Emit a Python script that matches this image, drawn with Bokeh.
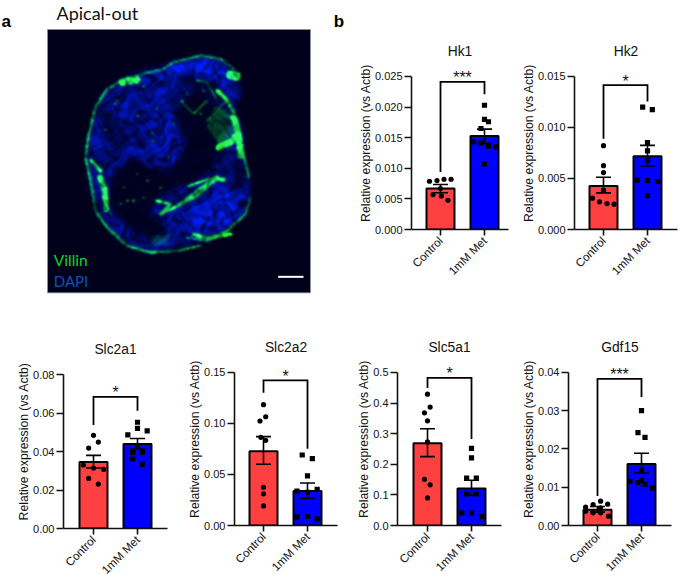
from bokeh.plotting import figure
from bokeh.models import (ColumnDataSource, FixedTicker, NumeralTickFormatter, Whisker,
                          TeeHead, Range1d, Title)
from bokeh.core.properties import value
from bokeh.embed import file_html
from bokeh.resources import INLINE
import numpy as np
import math

categories = ["Control", "1mM Met"]
RED = "#ff4040"
BLUE = "#0000ff"
INK = "#111111"
SANS = "Liberation Sans"

# ---- data: bar mean, SEM limits, individual points (value, swarm offset) ----
hk1_mean = [0.0067, 0.01527]
hk1_upper = [0.00734, 0.0164]
hk1_lower = [0.0060, 0.0141]
hk1_ctrl = [0.00788, 0.00799, 0.00821, 0.00821, 0.00668, 0.00571, 0.00549, 0.00478]
hk1_ctrl_dx = [-0.25, -0.08, 0.08, 0.24, 0.0, -0.17, 0.02, 0.17]
hk1_met = [0.0203, 0.0180, 0.0176, 0.0165, 0.0143, 0.0141, 0.0136, 0.0135, 0.0107]
hk1_met_dx = [0.0, 0.0, 0.09, -0.08, -0.25, -0.08, 0.09, 0.25, 0.0]

hk2_mean = [0.00427, 0.00717]
hk2_upper = [0.00512, 0.00825]
hk2_lower = [0.00359, 0.00623]
hk2_ctrl = [0.00822, 0.00626, 0.00558, 0.00385, 0.00307, 0.00271, 0.00254, 0.00248]
hk2_ctrl_dx = [0.0, 0.0, 0.0, 0.0, -0.25, -0.09, 0.08, 0.24]
hk2_met = [0.0120, 0.01174, 0.00851, 0.0077, 0.0068, 0.00483, 0.00479, 0.0047, 0.00333]
hk2_met_dx = [-0.11, 0.11, 0.0, 0.0, 0.0, -0.23, 0.0, 0.23, 0.0]

slc2a1_mean = [0.0345, 0.0439]
slc2a1_upper = [0.038, 0.0468]
slc2a1_lower = [0.0314, 0.0413]
slc2a1_ctrl = [0.0484, 0.0449, 0.0418, 0.033, 0.0314, 0.0307, 0.026, 0.0231]
slc2a1_ctrl_dx = [0.0, 0.11, -0.11, -0.23, 0.0, 0.23, -0.11, 0.11]
slc2a1_met = [0.0552, 0.052, 0.0507, 0.0486, 0.043, 0.0396, 0.0396, 0.0361, 0.0333]
slc2a1_met_dx = [0.0, 0.0, 0.22, -0.22, 0.0, -0.11, 0.11, -0.11, 0.11]

slc2a2_mean = [0.0727, 0.0339]
slc2a2_upper = [0.0871, 0.0417]
slc2a2_lower = [0.06, 0.0264]
slc2a2_ctrl = [0.1184, 0.1066, 0.1024, 0.0864, 0.0835, 0.0375, 0.031, 0.0192]
slc2a2_ctrl_dx = [0.0, 0.05, -0.08, -0.06, 0.05, 0.0, 0.0, 0.0]
slc2a2_met = [0.0691, 0.0655, 0.0486, 0.0336, 0.0326, 0.0355, 0.0085, 0.0088, 0.0065]
slc2a2_met_dx = [-0.12, 0.11, 0.0, -0.24, 0.0, 0.22, -0.24, 0.0, 0.22]

slc5a1_mean = [0.2685, 0.1207]
slc5a1_upper = [0.316, 0.148]
slc5a1_lower = [0.225, 0.099]
slc5a1_ctrl = [0.429, 0.387, 0.368, 0.342, 0.273, 0.151, 0.133, 0.090]
slc5a1_ctrl_dx = [0.0, 0.06, -0.07, 0.0, 0.0, -0.07, 0.06, 0.0]
slc5a1_met = [0.252, 0.221, 0.155, 0.155, 0.103, 0.103, 0.041, 0.041, 0.029]
slc5a1_met_dx = [0.0, 0.0, -0.11, 0.11, -0.11, 0.11, -0.22, 0.0, 0.23]

gdf15_mean = [0.0041, 0.01609]
gdf15_upper = [0.00496, 0.01887]
gdf15_lower = [0.0035, 0.01374]
gdf15_ctrl = [0.00635, 0.00548, 0.00557, 0.00478, 0.00461, 0.00374, 0.0033, 0.0033, 0.00243]
gdf15_ctrl_dx = [0.07, -0.10, 0.23, -0.27, 0.07, -0.27, -0.10, 0.07, 0.25]
gdf15_met = [0.03, 0.02426, 0.02304, 0.01444, 0.01157, 0.01122, 0.01183, 0.01078, 0.00983]
gdf15_met_dx = [0.0, -0.08, 0.08, 0.0, -0.26, -0.08, 0.0, 0.08, 0.25]

# significance brackets: top, left foot, right foot
hk1_br = [0.0241, 0.0094, 0.0221]
hk2_br = [0.01415, 0.0089, 0.01255]
slc2a1_br = [0.0684, 0.0538, 0.0612]
slc2a2_br = [0.1422, 0.1301, 0.0753]
slc5a1_br = [0.4826, 0.449, 0.2826]
gdf15_br = [0.03835, 0.00774, 0.03357]

hk1_ticks = [0.0, 0.005, 0.01, 0.015, 0.02, 0.025]
hk2_ticks = [0.0, 0.005, 0.01, 0.015]
slc2a1_ticks = [0.0, 0.02, 0.04, 0.06, 0.08]
slc2a2_ticks = [0.0, 0.05, 0.10, 0.15]
slc5a1_ticks = [0.0, 0.1, 0.2, 0.3, 0.4, 0.5]
gdf15_ticks = [0.0, 0.01, 0.02, 0.03, 0.04]

ROW1_H = 318
AXIS_ROOM = 66   # height the rotated tick labels ask for under the axis
SPACING = 44.0   # px between the two bars


def place(left, top):
    return {"position": "absolute", "left": f"{left}px", "top": f"{top}px"}


def panel(name, mean, up, lo, ctrl, cdx, met, mdx, br, stars, ticks, fmt,
          fig_left, fig_w, fig_top, y_top, y_zero, axis_x, x_end, c0):
    axis_h = y_zero - y_top
    frame_top = y_top - 20
    frame_h = y_zero - frame_top
    fig_h = int(round(y_zero - fig_top + AXIS_ROOM))
    p = figure(width=fig_w, height=fig_h, output_backend="svg", toolbar_location=None,
               x_range=Range1d((axis_x - c0) / SPACING, (x_end - c0) / SPACING),
               y_range=Range1d(0, ticks[-1] * frame_h / axis_h),
               min_border_left=int(round(axis_x - fig_left)),
               min_border_right=int(round(fig_left + fig_w - x_end)),
               min_border_top=int(round(frame_top - fig_top)),
               min_border_bottom=AXIS_ROOM,
               styles=place(fig_left, fig_top))
    p.outline_line_color = None
    p.background_fill_color = None
    p.border_fill_color = None
    p.grid.visible = False
    p.add_layout(Title(text=name, align="center", text_font=SANS, text_font_size="13.8px",
                       text_font_style="normal", text_color=INK, standoff=-4), "above")

    xa, ya = p.xaxis[0], p.yaxis[0]
    xa.ticker = FixedTicker(ticks=[0, 1])
    xa.major_label_overrides = {0: categories[0], 1: categories[1]}
    xa.major_label_orientation = math.pi / 4
    ya.ticker = FixedTicker(ticks=ticks)
    ya.formatter = NumeralTickFormatter(format=fmt)
    ya.bounds = (0, ticks[-1])
    ya.axis_label = "Relative expression (vs Actb)"
    ya.axis_label_text_font = SANS
    ya.axis_label_text_font_size = "12.2px"
    ya.axis_label_text_font_style = "normal"
    ya.axis_label_text_color = INK
    ya.axis_label_standoff = -1
    for a, out in ((xa, 6), (ya, 7)):
        a.axis_line_color = INK
        a.axis_line_width = 1.6
        a.major_tick_line_color = INK
        a.major_tick_line_width = 1.6
        a.major_tick_out = out
        a.major_tick_in = 0
        a.minor_tick_line_color = None
        a.major_label_text_font = SANS
        a.major_label_text_color = INK
        a.major_label_standoff = 2
    ya.major_label_text_font_size = "11px"
    xa.major_label_text_font_size = "11.6px"
    xa.major_label_standoff = 3

    p.vbar(x=[0, 1], top=mean, width=28 / SPACING, bottom=0, fill_color=[RED, BLUE],
           line_color="black", line_width=2)
    p.scatter(x=[0 + d for d in cdx], y=ctrl, marker="circle", size=5.2, fill_color="black",
              line_color="black", line_width=0)
    p.scatter(x=[1 + d for d in mdx], y=met, marker="square", size=5.2, fill_color="black",
              line_color="black", line_width=0)
    src = ColumnDataSource(dict(x=[0, 1], up=up, lo=lo))
    p.add_layout(Whisker(source=src, base="x", upper="up", lower="lo", level="overlay",
                         line_color="black", line_width=1.6,
                         upper_head=TeeHead(size=15, line_color="black", line_width=1.6),
                         lower_head=TeeHead(size=15, line_color="black", line_width=1.6)))
    top, left_foot, right_foot = br
    p.line(x=[0, 0, 1, 1], y=[left_foot, top, top, right_foot], line_color="black",
           line_width=1.8, line_join="miter")
    p.text(x=[0.5], y=[top], text=[stars], text_align="center", text_baseline="middle",
           text_font=value(SANS), text_font_size="16px", text_color=INK, y_offset=-4)
    return p


# ---- panel a: micrograph sketch, coordinates on a 3x grid over the page ----
PX0, PX1, PY0, PY1 = 141, 930, 87, 877
outline = ([520,600,660,700,715,725,705,715,730,732,745,750,730,680,620,530,450,380,320,285,265,255,265,285,320,400],
           [185,165,175,205,240,280,310,350,400,470,530,590,640,680,720,750,755,735,680,630,540,470,400,320,265,215])
lumen = ([540,590,650,685,680,650,640,600,540,480,450,500,470,390,335,320,340,400,450,500,540,555,530,520],
         [300,275,315,345,420,470,500,540,560,590,640,680,720,680,640,560,510,470,500,510,470,430,380,330])
upper_gap = ([525,560,640,680,650,590],
             [225,215,235,290,310,290])
right_gap = ([695,722,730,712,695],
             [480,490,550,590,540])
island = ([430,480,515,520,555,540,500,460,420,410,440],
          [290,265,290,370,430,470,510,500,450,380,340])
lower = ([580,680,745,720,640,570],
         [620,570,590,650,700,700])
topband = ([400,520,650,705,660,560,470],
           [240,190,175,230,255,210,240])
left_zone = ([270,340,410,420,340,290],
             [400,300,290,460,480,500])
dim_left = ([305,350,385,360,320],
            [350,340,400,450,430])
haze = ([640,690,700,660,620],
        [320,330,400,440,380])
haze2 = ([450,510,500,455],
         [705,700,730,735])
green_thin_x = [[320,285,265,255,270,285,320,380,450,530,600],
                [330,370,420,490,520,600,660,700],
                [590,620,650],
                [620,650,680],
                [540,580,620],
                [560,620,680,735,750],
                [700,725,745]]
green_thin_y = [[265,320,400,470,540,630,680,735,755,750,735],
                [260,235,222,205,185,165,175,205],
                [240,245,300],
                [360,330,300],
                [300,340,300],
                [710,720,690,640,590],
                [330,440,530]]
green_thin_w = [3.5, 3, 1.5, 2, 1.5, 3, 3]
green_thick_x = [[365,410],[298,312,318],[655,690,712],[690,708],[272,300],[700,712,722],
                 [650,680,700],[470,510,480,540,590,640,672],[520,590,650,668],[580,620,690],
                 [565,610,650]]
green_thick_y = [[245,238],[530,565,625],[440,425,400],[222,228],[480,510],[350,395,465],
                 [270,300,340],[600,610,640,610,570,535,535],[620,585,530,540],[700,712,700],
                 [555,540,528]]
green_thick_w = [10, 8, 9, 13, 5, 10, 5, 4, 4.5, 5, 3]
speck_x = [456,315,470,410,625,345,430,400,370,380,440,410,360,430,350,460,520,560,590,505,330,480,545,610,600]
speck_y = [395,388,325,345,358,310,258,600,560,600,540,520,610,590,300,420,370,280,240,470,640,560,300,270,340]

px = np.arange(PX0 + 1.5, PX1, 3.0)
py = np.arange(PY0 + 1.5, PY1, 3.0)
GX, GY = np.meshgrid(px, py)


def region(shape):
    xs, ys = np.asarray(shape[0], float), np.asarray(shape[1], float)
    inside = np.zeros(GX.shape, bool)
    for i in range(len(xs)):
        x0, y0, x1, y1 = xs[i], ys[i], xs[i - 1], ys[i - 1]
        if y0 == y1:
            continue
        cross = ((y0 > GY) != (y1 > GY)) & (GX < (x1 - x0) * (GY - y0) / (y1 - y0) + x0)
        inside ^= cross
    return inside.astype(float)


def strokes(xs, ys, widths):
    out = np.zeros(GX.shape)
    for lx, ly, w in zip(xs, ys, widths):
        for i in range(len(lx) - 1):
            ax, ay, bx, by = lx[i], ly[i], lx[i + 1], ly[i + 1]
            t = ((GX - ax) * (bx - ax) + (GY - ay) * (by - ay)) / ((bx - ax) ** 2 + (by - ay) ** 2)
            t = np.clip(t, 0, 1)
            d = np.hypot(GX - ax - t * (bx - ax), GY - ay - t * (by - ay))
            out = np.maximum(out, (d < w).astype(float))
    return out


def soften(field, sigma):
    ky = np.fft.fftfreq(field.shape[0])[:, None]
    kx = np.fft.fftfreq(field.shape[1])[None, :]
    kernel = np.exp(-2 * (np.pi * sigma) ** 2 * (kx ** 2 + ky ** 2))
    return np.real(np.fft.ifft2(np.fft.fft2(field) * kernel))


# nuclei-like mottling: a fixed, warped interference pattern (no grid look)
WX = GX + 26 * np.sin(GY * 0.041 + 0.7) + 14 * np.sin(GY * 0.093 + GX * 0.031)
WY = GY + 26 * np.sin(GX * 0.047 + 1.9) + 14 * np.sin(GX * 0.087 - GY * 0.029)
mottle = (np.sin(WX * 0.137 + WY * 0.071) + np.sin(WX * 0.059 - WY * 0.149)
          + np.sin(WX * 0.191 + WY * 0.163) * 0.7 + np.sin(WX * 0.031 + WY * 0.043) * 1.1)
mottle = np.clip(0.5 + 0.2 * soften(mottle, 0.8), 0, 1)

body = region(outline)
bluef = 0.46 * body
bluef *= 1 - 0.9 * region(lumen)
bluef *= 1 - 0.65 * region(upper_gap)
bluef *= 1 - 0.8 * region(right_gap)
bluef *= 1 - 0.55 * region(dim_left)
bluef = np.maximum(bluef, 0.58 * region(island))
bluef = np.maximum(bluef, 0.52 * region(left_zone) * (1 - 0.55 * region(dim_left)))
bluef = np.maximum(bluef, 0.80 * region(lower))
bluef = np.maximum(bluef, 0.82 * region(topband))
bluef = soften(bluef, 3.0) * (0.25 + 1.2 * mottle)

greenf = strokes(green_thin_x, green_thin_y, green_thin_w) * 0.65
greenf = np.maximum(greenf, strokes(green_thick_x, green_thick_y, green_thick_w))
greenf = np.maximum(greenf, 0.25 * region(haze))
greenf = np.maximum(greenf, 0.18 * region(haze2))
for sx, sy in zip(speck_x, speck_y):
    greenf = np.maximum(greenf, 0.7 * (np.hypot(GX - sx, GY - sy) < 3.5))
greenf = np.clip(soften(greenf, 1.0), 0, 1) * (0.5 + 1.0 * mottle)
greenf = np.clip(greenf, 0, 1)
bluef = np.clip(bluef, 0, 1)

rgba = np.zeros(GX.shape + (4,), dtype=np.uint8)
rgba[..., 0] = (0 + 45 * greenf ** 2).astype(np.uint8)
rgba[..., 1] = np.clip(0 + 235 * greenf + 30 * bluef, 0, 255).astype(np.uint8)
rgba[..., 2] = np.clip(26 + 225 * bluef * (1 - 0.55 * greenf) + 30 * greenf, 0, 255).astype(np.uint8)
rgba[..., 3] = 255
micrograph = rgba.view(np.uint32).reshape(GX.shape)

a = figure(width=345, height=ROW1_H, output_backend="svg", toolbar_location=None,
           x_range=Range1d(0, 1035), y_range=Range1d(954, 0),
           min_border=0, x_axis_type=None, y_axis_type=None, styles=place(0, 0))
a.outline_line_color = None
a.background_fill_color = None
a.border_fill_color = None
a.grid.visible = False
a.image_rgba(image=[micrograph], x=PX0, y=PY0, dw=PX1 - PX0, dh=PY1 - PY0)
a.quad(left=[PX0], right=[PX1], top=[PY0], bottom=[PY1], fill_color=None,
       line_color="#8a8fa0", line_width=0.8)
a.line([833, 909], [829, 829], line_color="white", line_width=2)
a.text([168], [38], text=["Apical-out"], text_font=value("Lato"), text_font_size="18px",
       text_baseline="middle", text_color="#111111")
a.text([3], [62], text=["a"], text_font=value(SANS), text_font_style="bold",
       text_font_size="17px", text_baseline="middle", text_color="black")
a.text([1000], [62], text=["b"], text_font=value(SANS), text_font_style="bold",
       text_font_size="17px", text_baseline="middle", text_color="black")
a.text([160], [778], text=["Villin"], text_font=value("Lato"), text_font_size="15.5px",
       text_baseline="middle", text_color="#12d12a")
a.text([160], [840], text=["DAPI"], text_font=value("Lato"), text_font_size="15px",
       text_baseline="middle", text_color="#0a55b5")

hk1 = panel("Hk1", hk1_mean, hk1_upper, hk1_lower, hk1_ctrl, hk1_ctrl_dx, hk1_met, hk1_met_dx,
            hk1_br, "***", hk1_ticks, "0.000", 345, 173, 0, 76, 229.3, 411, 508, 440)
hk2 = panel("Hk2", hk2_mean, hk2_upper, hk2_lower, hk2_ctrl, hk2_ctrl_dx, hk2_met, hk2_met_dx,
            hk2_br, "*", hk2_ticks, "0.000", 518, 167, 0, 76, 229.3, 574, 677, 603)
slc2a1 = panel("Slc2a1", slc2a1_mean, slc2a1_upper, slc2a1_lower, slc2a1_ctrl, slc2a1_ctrl_dx,
               slc2a1_met, slc2a1_met_dx, slc2a1_br, "*", slc2a1_ticks, "0.00",
               0, 180, ROW1_H, 374, 527.7, 63, 167, 93)
slc2a2 = panel("Slc2a2", slc2a2_mean, slc2a2_upper, slc2a2_lower, slc2a2_ctrl, slc2a2_ctrl_dx,
               slc2a2_met, slc2a2_met_dx, slc2a2_br, "*", slc2a2_ticks, "0.00",
               180, 165, ROW1_H, 372, 525.3, 234, 337, 263)
slc5a1 = panel("Slc5a1", slc5a1_mean, slc5a1_upper, slc5a1_lower, slc5a1_ctrl, slc5a1_ctrl_dx,
               slc5a1_met, slc5a1_met_dx, slc5a1_br, "*", slc5a1_ticks, "0.0",
               345, 165, ROW1_H, 372, 525.3, 397, 501, 427)
gdf15 = panel("Gdf15", gdf15_mean, gdf15_upper, gdf15_lower, gdf15_ctrl, gdf15_ctrl_dx,
              gdf15_met, gdf15_met_dx, gdf15_br, "***", gdf15_ticks, "0.00",
              510, 175, ROW1_H, 372, 525.3, 568, 671, 597)

roots = [a, hk1, hk2, slc2a1, slc2a2, slc5a1, gdf15]
open("out.html", "w").write(file_html(roots, INLINE))
